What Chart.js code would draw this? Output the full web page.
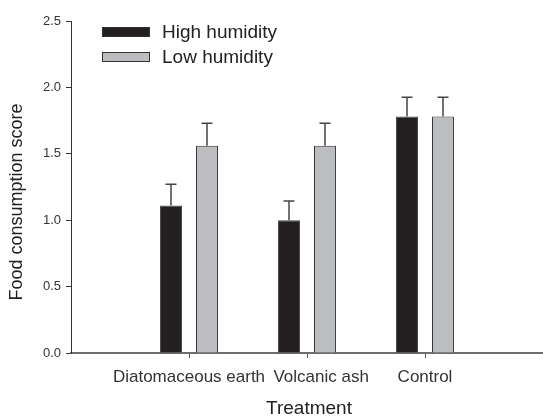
<!DOCTYPE html>
<html>
<head>
<meta charset="utf-8">
<script src="https://cdn.jsdelivr.net/npm/chart.js@4"></script>
<style>
body { margin: 0; background: #ffffff; }
#wrap { width: 543px; height: 417px; }
</style>
</head>
<body>
<div id="wrap"><canvas id="foodChart" width="543" height="417"></canvas></div>
<script>
const treatments = ["Diatomaceous earth", "Volcanic ash", "Control"];
const highMeans = [1.11, 1.00, 1.78];
const highErrors = [0.16, 0.145, 0.145];
const lowMeans = [1.56, 1.56, 1.78];
const lowErrors = [0.17, 0.17, 0.145];
const yTicks = [0, 0.5, 1.0, 1.5, 2.0, 2.5];

Chart.defaults.font.family = "'Liberation Sans', Arial, sans-serif";
Chart.defaults.color = '#333333';

// empty slots either side so the categories sit at 1, 2, 3 of a 0..4 axis
const labels = ['', ...treatments, ''];
const pad = arr => [null, ...arr, null];

const errorBars = {
    id: 'errorBars',
    afterDatasetsDraw(chart)
    {
        const ctx = chart.ctx;
        const yScale = chart.scales.y;
        ctx.save();
        ctx.strokeStyle = '#444444';
        ctx.lineWidth = 1.5;
        chart.data.datasets.forEach((ds, i) =>
        {
            const meta = chart.getDatasetMeta(i);
            meta.data.forEach((bar, j) =>
            {
                const err = ds.errors[j];
                if (err == null || ds.data[j] == null) return;
                const top = yScale.getPixelForValue(ds.data[j] + err);
                ctx.beginPath();
                ctx.moveTo(bar.x, bar.y);
                ctx.lineTo(bar.x, top);
                ctx.moveTo(bar.x - 5.5, top);
                ctx.lineTo(bar.x + 5.5, top);
                ctx.stroke();
            });
        });
        ctx.restore();
    }
};

const extras = {
    id: 'extras',
    afterDraw(chart)
    {
        const ctx = chart.ctx;
        ctx.save();
        // legend
        chart.data.datasets.forEach((ds, i) =>
        {
            const y = 27 + i * 25;
            ctx.fillStyle = ds.backgroundColor;
            ctx.fillRect(102, y, 48, 10);
            ctx.strokeStyle = '#333333';
            ctx.lineWidth = 1;
            ctx.strokeRect(102.5, y + 0.5, 47, 9);
            ctx.fillStyle = '#222222';
            ctx.font = "19px 'Liberation Sans', Arial, sans-serif";
            ctx.textAlign = 'left';
            ctx.textBaseline = 'middle';
            ctx.fillText(ds.label, 162, y + 6);
        });
        // axis titles
        ctx.fillStyle = '#222222';
        ctx.font = "19px 'Liberation Sans', Arial, sans-serif";
        ctx.textAlign = 'center';
        ctx.textBaseline = 'middle';
        ctx.fillText('Treatment', 309, 409);
        ctx.translate(17, 202);
        ctx.rotate(-Math.PI / 2);
        ctx.font = "18px 'Liberation Sans', Arial, sans-serif";
        ctx.fillText('Food consumption score', 0, 0);
        ctx.restore();
    }
};

new Chart(document.getElementById("foodChart"), {
    type: 'bar',
    data: {
        labels: labels,
        datasets: [{
            label: "High humidity",
            data: pad(highMeans),
            errors: pad(highErrors),
            backgroundColor: '#231f20',
            borderColor: '#444444',
            borderWidth: 1,
            categoryPercentage: 0.61,
            barPercentage: 0.61
        }, {
            label: "Low humidity",
            data: pad(lowMeans),
            errors: pad(lowErrors),
            backgroundColor: '#bcbdc1',
            borderColor: '#333333',
            borderWidth: 1,
            categoryPercentage: 0.61,
            barPercentage: 0.61
        }]
    },
    options: {
        responsive: false,
        animation: false,
        layout: { padding: { top: 21, right: -6, left: 0, bottom: 0 } },
        plugins: {
            legend: { display: false },
            tooltip: { enabled: false }
        },
        scales: {
            x: {
                offset: false,
                afterFit: scale =>
                {
                    scale.height = 64;
                    scale.paddingLeft = 0;
                    scale.paddingRight = 0;
                },
                border: { display: true, color: '#6d6d6d', width: 2 },
                grid: {
                    offset: false,
                    drawOnChartArea: false,
                    drawTicks: true,
                    tickLength: 5,
                    tickColor: c => (c.index === 0 || c.index === labels.length - 1) ? 'rgba(0,0,0,0)' : '#555555'
                },
                ticks: {
                    autoSkip: false,
                    maxRotation: 0,
                    padding: 9,
                    color: '#333333',
                    font: { size: 17 },
                    callback: (v, i) => labels[i] === 'Volcanic ash' ? '      ' + labels[i] : labels[i]
                }
            },
            y: {
                min: 0,
                max: 2.5,
                afterFit: scale => { scale.width = 71; },
                afterBuildTicks: scale => { scale.ticks = yTicks.map(v => ({ value: v })); },
                border: { display: true, color: '#333333', width: 1 },
                grid: {
                    drawOnChartArea: false,
                    drawTicks: true,
                    tickLength: 5,
                    tickColor: '#333333'
                },
                ticks: {
                    padding: 5,
                    color: '#333333',
                    font: { size: 13 },
                    callback: v => Number(v).toFixed(1)
                }
            }
        }
    },
    plugins: [errorBars, extras]
});
</script>
</body>
</html>
